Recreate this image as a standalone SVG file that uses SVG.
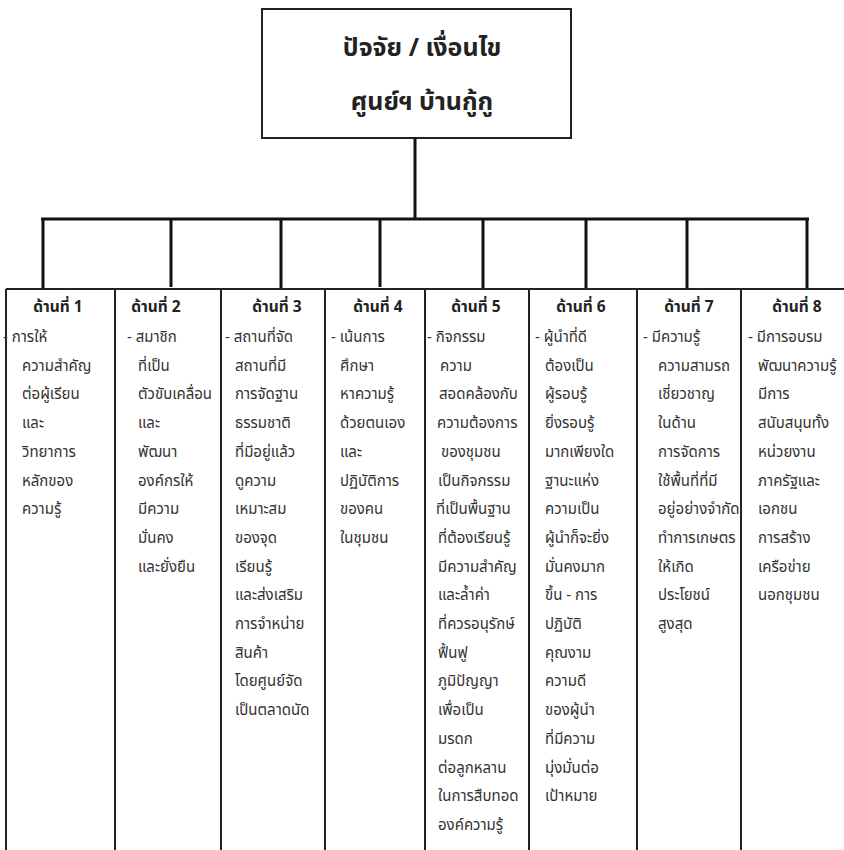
<svg xmlns="http://www.w3.org/2000/svg" width="844" height="850" viewBox="0 0 844 850">
<style>
.bg{fill:#fff}
.box{fill:#fff;stroke:#222;stroke-width:2}
.conn{stroke:#111;stroke-width:3;fill:none}
.grid{stroke:#222;stroke-width:2;fill:none}
.title{font-family:"Noto Sans Thai","Noto Sans","DejaVu Sans",sans-serif;font-size:25px;font-weight:bold;fill:#222;text-anchor:middle}
.hd{font-family:"Noto Sans Thai","Noto Sans","DejaVu Sans",sans-serif;font-size:15.5px;font-weight:bold;fill:#222;text-anchor:middle}
.tx{font-family:"Noto Sans Thai","Noto Sans","DejaVu Sans",sans-serif;font-size:15px;fill:#333}
</style>
<rect class="bg" x="0" y="0" width="844" height="850"/>
<g id="root">
<rect class="box" x="262" y="9" width="309" height="129"/>
<text class="title" x="422" y="56">ปัจจัย / เงื่อนไข</text>
<text class="title" x="422" y="110">ศูนย์ฯ บ้านกู้กู</text>
</g>
<g id="connectors">
<line class="conn" x1="415" y1="138" x2="415" y2="219"/>
<line class="conn" x1="41" y1="219" x2="809" y2="219"/>
<line class="conn" x1="43" y1="219" x2="43" y2="288"/>
<line class="conn" x1="171" y1="219" x2="171" y2="287"/>
<line class="conn" x1="281" y1="219" x2="281" y2="288"/>
<line class="conn" x1="380" y1="219" x2="380" y2="287"/>
<line class="conn" x1="483" y1="219" x2="483" y2="288"/>
<line class="conn" x1="586" y1="219" x2="586" y2="288"/>
<line class="conn" x1="687" y1="219" x2="687" y2="288"/>
<line class="conn" x1="807" y1="219" x2="807" y2="288"/>
</g>
<g id="table">
<line class="grid" x1="6" y1="289" x2="844" y2="289"/>
<line class="grid" x1="6" y1="289" x2="6" y2="850"/>
<line class="grid" x1="115" y1="289" x2="115" y2="850"/>
<line class="grid" x1="221" y1="289" x2="221" y2="850"/>
<line class="grid" x1="325" y1="289" x2="325" y2="850"/>
<line class="grid" x1="425" y1="289" x2="425" y2="850"/>
<line class="grid" x1="529" y1="289" x2="529" y2="850"/>
<line class="grid" x1="637" y1="289" x2="637" y2="850"/>
<line class="grid" x1="741" y1="289" x2="741" y2="850"/>
</g>
<g id="col1">
<text class="hd" x="58" y="312">ด้านที่ 1</text>
<text class="tx" x="3" y="342">- การให้</text>
<text class="tx" x="22" y="370.7">ความสำคัญ</text>
<text class="tx" x="22" y="399.4">ต่อผู้เรียน</text>
<text class="tx" x="22" y="428.1">และ</text>
<text class="tx" x="22" y="456.8">วิทยาการ</text>
<text class="tx" x="22" y="485.5">หลักของ</text>
<text class="tx" x="22" y="514.2">ความรู้</text>
</g>
<g id="col2">
<text class="hd" x="156" y="312">ด้านที่ 2</text>
<text class="tx" x="127" y="342">- สมาชิก</text>
<text class="tx" x="138" y="370.7">ที่เป็น</text>
<text class="tx" x="138" y="399.4">ตัวขับเคลื่อน</text>
<text class="tx" x="138" y="428.1">และ</text>
<text class="tx" x="138" y="456.8">พัฒนา</text>
<text class="tx" x="138" y="485.5">องค์กรให้</text>
<text class="tx" x="138" y="514.2">มีความ</text>
<text class="tx" x="138" y="542.9">มั่นคง</text>
<text class="tx" x="138" y="571.6">และยั่งยืน</text>
</g>
<g id="col3">
<text class="hd" x="277" y="312">ด้านที่ 3</text>
<text class="tx" x="225" y="342">- สถานที่จัด</text>
<text class="tx" x="235" y="370.7">สถานที่มี</text>
<text class="tx" x="235" y="399.4">การจัดฐาน</text>
<text class="tx" x="235" y="428.1">ธรรมชาติ</text>
<text class="tx" x="235" y="456.8">ที่มีอยู่แล้ว</text>
<text class="tx" x="235" y="485.5">ดูความ</text>
<text class="tx" x="235" y="514.2">เหมาะสม</text>
<text class="tx" x="235" y="542.9">ของจุด</text>
<text class="tx" x="235" y="571.6">เรียนรู้</text>
<text class="tx" x="235" y="600.3">และส่งเสริม</text>
<text class="tx" x="235" y="629">การจำหน่าย</text>
<text class="tx" x="235" y="657.7">สินค้า</text>
<text class="tx" x="235" y="686.4">โดยศูนย์จัด</text>
<text class="tx" x="235" y="715.1">เป็นตลาดนัด</text>
</g>
<g id="col4">
<text class="hd" x="378" y="312">ด้านที่ 4</text>
<text class="tx" x="331" y="342">- เน้นการ</text>
<text class="tx" x="340" y="370.7">ศึกษา</text>
<text class="tx" x="340" y="399.4">หาความรู้</text>
<text class="tx" x="340" y="428.1">ด้วยตนเอง</text>
<text class="tx" x="340" y="456.8">และ</text>
<text class="tx" x="340" y="485.5">ปฏิบัติการ</text>
<text class="tx" x="340" y="514.2">ของคน</text>
<text class="tx" x="340" y="542.9">ในชุมชน</text>
</g>
<g id="col5">
<text class="hd" x="476" y="312">ด้านที่ 5</text>
<text class="tx" x="427" y="342">- กิจกรรม</text>
<text class="tx" x="440" y="370.7">ความ</text>
<text class="tx" x="439" y="399.4">สอดคล้องกับ</text>
<text class="tx" x="437" y="428.1">ความต้องการ</text>
<text class="tx" x="441" y="456.8">ของชุมชน</text>
<text class="tx" x="438" y="485.5">เป็นกิจกรรม</text>
<text class="tx" x="436" y="514.2">ที่เป็นพื้นฐาน</text>
<text class="tx" x="438" y="542.9">ที่ต้องเรียนรู้</text>
<text class="tx" x="438" y="571.6">มีความสำคัญ</text>
<text class="tx" x="438" y="600.3">และล้ำค่า</text>
<text class="tx" x="438" y="629">ที่ควรอนุรักษ์</text>
<text class="tx" x="438" y="657.7">ฟื้นฟู</text>
<text class="tx" x="438" y="686.4">ภูมิปัญญา</text>
<text class="tx" x="438" y="715.1">เพื่อเป็น</text>
<text class="tx" x="438" y="743.8">มรดก</text>
<text class="tx" x="438" y="772.5">ต่อลูกหลาน</text>
<text class="tx" x="438" y="801.2">ในการสืบทอด</text>
<text class="tx" x="438" y="829.9">องค์ความรู้</text>
</g>
<g id="col6">
<text class="hd" x="581" y="312">ด้านที่ 6</text>
<text class="tx" x="535" y="342">- ผู้นำที่ดี</text>
<text class="tx" x="545" y="370.7">ต้องเป็น</text>
<text class="tx" x="545" y="399.4">ผู้รอบรู้</text>
<text class="tx" x="545" y="428.1">ยิ่งรอบรู้</text>
<text class="tx" x="545" y="456.8">มากเพียงใด</text>
<text class="tx" x="545" y="485.5">ฐานะแห่ง</text>
<text class="tx" x="545" y="514.2">ความเป็น</text>
<text class="tx" x="545" y="542.9">ผู้นำก็จะยิ่ง</text>
<text class="tx" x="545" y="571.6">มั่นคงมาก</text>
<text class="tx" x="545" y="600.3">ขึ้น - การ</text>
<text class="tx" x="545" y="629">ปฏิบัติ</text>
<text class="tx" x="545" y="657.7">คุณงาม</text>
<text class="tx" x="545" y="686.4">ความดี</text>
<text class="tx" x="545" y="715.1">ของผู้นำ</text>
<text class="tx" x="545" y="743.8">ที่มีความ</text>
<text class="tx" x="545" y="772.5">มุ่งมั่นต่อ</text>
<text class="tx" x="545" y="801.2">เป้าหมาย</text>
</g>
<g id="col7">
<text class="hd" x="689" y="312">ด้านที่ 7</text>
<text class="tx" x="643" y="342">- มีความรู้</text>
<text class="tx" x="658" y="370.7">ความสามรถ</text>
<text class="tx" x="658" y="399.4">เชี่ยวชาญ</text>
<text class="tx" x="658" y="428.1">ในด้าน</text>
<text class="tx" x="658" y="456.8">การจัดการ</text>
<text class="tx" x="658" y="485.5">ใช้พื้นที่ที่มี</text>
<text class="tx" x="658" y="514.2">อยู่อย่างจำกัด</text>
<text class="tx" x="658" y="542.9">ทำการเกษตร</text>
<text class="tx" x="658" y="571.6">ให้เกิด</text>
<text class="tx" x="658" y="600.3">ประโยชน์</text>
<text class="tx" x="658" y="629">สูงสุด</text>
</g>
<g id="col8">
<text class="hd" x="797" y="312">ด้านที่ 8</text>
<text class="tx" x="748" y="342">- มีการอบรม</text>
<text class="tx" x="758" y="370.7">พัฒนาความรู้</text>
<text class="tx" x="758" y="399.4">มีการ</text>
<text class="tx" x="758" y="428.1">สนับสนุนทั้ง</text>
<text class="tx" x="758" y="456.8">หน่วยงาน</text>
<text class="tx" x="758" y="485.5">ภาครัฐและ</text>
<text class="tx" x="758" y="514.2">เอกชน</text>
<text class="tx" x="758" y="542.9">การสร้าง</text>
<text class="tx" x="758" y="571.6">เครือข่าย</text>
<text class="tx" x="758" y="600.3">นอกชุมชน</text>
</g>
</svg>
